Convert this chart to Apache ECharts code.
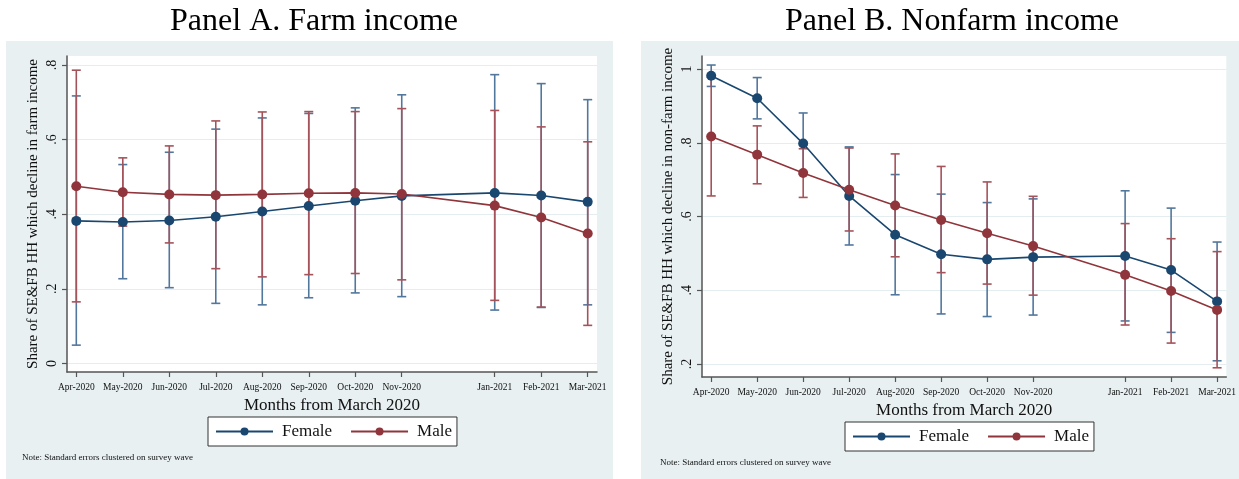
<!DOCTYPE html>
<html>
<head>
<meta charset="utf-8">
<script src="https://cdn.jsdelivr.net/npm/echarts@6/dist/echarts.min.js"></script>
<style>
html,body{margin:0;padding:0;background:#fff;}
#chart{width:1239px;height:479px;}
</style>
</head>
<body>
<div id="chart"></div>
<script>
// ---- data ----
const monthLabels = ['Apr-2020','May-2020','Jun-2020','Jul-2020','Aug-2020','Sep-2020','Oct-2020','Nov-2020','Jan-2021','Feb-2021','Mar-2021'];
const monthPos = [1,2,3,4,5,6,7,8,10,11,12];

// Panel A: farm income
const farmFemale   = [0.382,0.379,0.383,0.393,0.407,0.422,0.436,0.449,0.457,0.450,0.433];
const farmFemaleLo = [0.049,0.227,0.203,0.161,0.157,0.176,0.189,0.179,0.143,0.150,0.157];
const farmFemaleHi = [0.717,0.533,0.566,0.628,0.658,0.670,0.685,0.720,0.774,0.750,0.707];
const farmMale     = [0.475,0.459,0.453,0.451,0.453,0.456,0.457,0.454,0.423,0.391,0.348];
const farmMaleLo   = [0.165,0.368,0.323,0.254,0.232,0.238,0.241,0.224,0.169,0.151,0.102];
const farmMaleHi   = [0.786,0.551,0.583,0.650,0.674,0.675,0.675,0.683,0.678,0.634,0.594];

// Panel B: nonfarm income
const nonfarmFemale   = [0.982,0.921,0.798,0.656,0.551,0.498,0.484,0.490,0.493,0.455,0.370];
const nonfarmFemaleLo = [0.953,0.865,0.715,0.523,0.388,0.336,0.329,0.333,0.317,0.286,0.209];
const nonfarmFemaleHi = [1.011,0.977,0.881,0.789,0.714,0.661,0.638,0.648,0.670,0.623,0.531];
const nonfarmMale     = [0.817,0.768,0.718,0.673,0.630,0.591,0.555,0.520,0.442,0.398,0.347];
const nonfarmMaleLo   = [0.656,0.689,0.652,0.561,0.491,0.448,0.417,0.387,0.306,0.257,0.190];
const nonfarmMaleHi   = [0.978,0.846,0.784,0.786,0.770,0.736,0.694,0.655,0.581,0.540,0.505];

const yTicksA = [0,0.2,0.4,0.6,0.8];
const yTicksB = [0.2,0.4,0.6,0.8,1];

// ---- styling ----
const SERIF = '"Liberation Serif", "Times New Roman", serif';
const BLUE = '#1a476f', RED = '#90353b';
const BLUE_BAR = '#52779d', RED_BAR = '#a5535a';
const BG = '#e8f0f2';

function pts(vals){ return monthPos.map((p,i)=>[p, vals[i]]); }
function bars(lo, hi){ return monthPos.map((p,i)=>[p, lo[i], hi[i]]); }
function ylab(v){ if (v===0) return '0'; if (v===1) return '1'; return String(+v.toFixed(1)).replace(/^0\./,'.'); }

function errSeries(name, xi, data, color){
  return {
    type:'custom', name:name, xAxisIndex:xi, yAxisIndex:xi, z:2,
    encode:{x:0, y:[1,2]},
    data:data,
    renderItem:function(params, api){
      const x = api.value(0), lo = api.value(1), hi = api.value(2);
      const a = api.coord([x, lo]), b = api.coord([x, hi]);
      const w = 4.5;
      const st = {stroke:color, lineWidth:1.6, fill:null};
      return {type:'group', children:[
        {type:'line', shape:{x1:a[0],y1:a[1],x2:b[0],y2:b[1]}, style:st},
        {type:'line', shape:{x1:a[0]-w,y1:a[1],x2:a[0]+w,y2:a[1]}, style:st},
        {type:'line', shape:{x1:b[0]-w,y1:b[1],x2:b[0]+w,y2:b[1]}, style:st}
      ]};
    },
    silent:true
  };
}
function lineSeries(name, xi, data, color){
  return {
    type:'line', name:name, xAxisIndex:xi, yAxisIndex:xi, z:5,
    data:data, symbol:'circle', symbolSize:10,
    lineStyle:{color:color, width:1.6},
    itemStyle:{color:color},
    emphasis:{disabled:true},
    animation:false
  };
}

function xAxis(gi){
  return {
    type:'value', gridIndex:gi, min:0.8, max:12.2,
    name:'Months from March 2020', nameLocation:'middle', nameGap:22,
    nameTextStyle:{fontFamily:SERIF, fontSize:17, color:'#111'},
    axisLine:{show:true, onZero:false, lineStyle:{color:'#555', width:1.5}},
    axisTick:{show:true, length:5, customValues:monthPos, lineStyle:{color:'#555', width:1.2}},
    axisLabel:{customValues:monthPos, margin:10, fontFamily:SERIF, fontSize:9.5, color:'#111',
      formatter:function(v){ const i = monthPos.indexOf(v); return i>=0 ? monthLabels[i] : ''; }},
    splitLine:{show:false}
  };
}
function yAxis(gi, min, max, ticks, title){
  return {
    type:'value', gridIndex:gi, min:min, max:max,
    name:title, nameLocation:'middle', nameGap:26, nameRotate:90,
    nameTextStyle:{fontFamily:SERIF, fontSize:15, color:'#111'},
    axisLine:{show:true, onZero:false, lineStyle:{color:'#555', width:1.5}},
    axisTick:{show:true, length:5, customValues:ticks, lineStyle:{color:'#555', width:1.2}},
    axisLabel:{customValues:ticks, rotate:90, margin:8, fontFamily:SERIF, fontSize:14, color:'#111', formatter:ylab},
    splitLine:{show:true, lineStyle:{color:'#e4edf0', width:1}}
  };
}

const chart = echarts.init(document.getElementById('chart'), null, {renderer:'canvas'});
const legendCommon = {
  data:['Female','Male'], orient:'horizontal',
  backgroundColor:'#fff', borderColor:'#333', borderWidth:1, borderRadius:0,
  padding:[6,5,6,7], itemWidth:57, itemHeight:10, itemGap:18,
  textStyle:{fontFamily:SERIF, fontSize:17, color:'#111', padding:[0,0,0,4]},
  selectedMode:false
};
chart.setOption({
  animation:false,
  backgroundColor:'#fff',
  graphic:[
    {type:'rect', z:-10, shape:{x:6, y:41, width:607, height:440}, style:{fill:BG}},
    {type:'rect', z:-10, shape:{x:641, y:41, width:600, height:440}, style:{fill:BG}},
    {type:'text', left:22, top:453, style:{text:'Note: Standard errors clustered on survey wave', font:'9px '+SERIF, fill:'#111'}},
    {type:'text', left:660, top:458, style:{text:'Note: Standard errors clustered on survey wave', font:'9px '+SERIF, fill:'#111'}}
  ],
  title:[
    {text:'Panel A. Farm income', left:309, top:1, textAlign:'center', textStyle:{fontFamily:SERIF, fontSize:32, fontWeight:'normal', color:'#000'}},
    {text:'Panel B. Nonfarm income', left:947, top:1, textAlign:'center', textStyle:{fontFamily:SERIF, fontSize:32, fontWeight:'normal', color:'#000'}}
  ],
  legend:[
    Object.assign({left:208, top:417}, legendCommon),
    Object.assign({left:845, top:422}, legendCommon)
  ],
  grid:[
    {left:67, top:56, width:530, height:316, show:true, backgroundColor:'#fff', borderWidth:0, containLabel:false},
    {left:702, top:56, width:536, height:321, show:true, backgroundColor:'#fff', borderWidth:0, containLabel:false}
  ],
  xAxis:[xAxis(0), xAxis(1)],
  yAxis:[
    yAxis(0, -0.023, 0.824, yTicksA, 'Share of SE&FB HH which decline in farm income'),
    yAxis(1, 0.165, 1.0355, yTicksB, 'Share of SE&FB HH which decline in non-farm income')
  ],
  series:[
    errSeries('Female CI', 0, bars(farmFemaleLo, farmFemaleHi), BLUE_BAR),
    errSeries('Male CI', 0, bars(farmMaleLo, farmMaleHi), RED_BAR),
    lineSeries('Female', 0, pts(farmFemale), BLUE),
    lineSeries('Male', 0, pts(farmMale), RED),
    errSeries('Female CI', 1, bars(nonfarmFemaleLo, nonfarmFemaleHi), BLUE_BAR),
    errSeries('Male CI', 1, bars(nonfarmMaleLo, nonfarmMaleHi), RED_BAR),
    lineSeries('Female', 1, pts(nonfarmFemale), BLUE),
    lineSeries('Male', 1, pts(nonfarmMale), RED)
  ]
});
</script>
</body>
</html>
